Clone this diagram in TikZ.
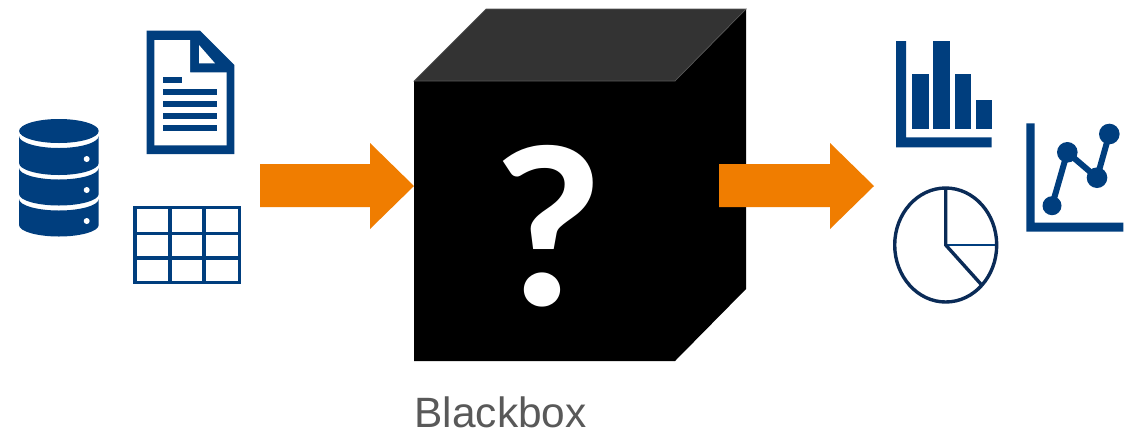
\documentclass[tikz,border=0pt]{standalone}
\usepackage{graphicx}
\usepackage{fontspec}
\setmainfont{Liberation Sans}
\newfontfamily\markfont{Carlito}
\definecolor{navy}{HTML}{003E7E}
\definecolor{pieline}{HTML}{0A2B57}
\definecolor{flow}{HTML}{F07D00}
\definecolor{topface}{HTML}{333333}
\definecolor{topedge}{HTML}{555555}
\definecolor{labelgrey}{HTML}{595959}
\tikzset{
  navyfill/.style={fill=navy,draw=none},
  blank/.style={fill=white,draw=none},
  flowarrow/.style={fill=flow,draw=none},
  pie/.style={draw=pieline,line width=3.4pt,fill=none},
  piethin/.style={draw=navy,line width=2.6pt},
  gridline/.style={draw=navy,line width=3.6pt},
  trend/.style={draw=navy,line width=6pt},
}
\newcommand{\dbseg}[3]{% top side y, bottom side y, sag
  \fill[navyfill] (19,#1) .. controls (19,#1+.55*#3) and (37.1,#1+#3) .. (58.9,#1+#3)
    .. controls (80.7,#1+#3) and (98.7,#1+.55*#3) .. (98.7,#1)
    -- (98.7,#2) .. controls (98.7,#2+.55*#3) and (80.7,#2+#3) .. (58.9,#2+#3)
    .. controls (37.1,#2+#3) and (19,#2+.55*#3) .. (19,#2) -- cycle;}
\begin{document}
\begin{tikzpicture}[x=1pt,y=-1pt]
\useasboundingbox (0,0) rectangle (1132,432);
\fill[white] (0,0) rectangle (1132,432);
% document icon
\fill[navyfill] (146.7,30.7) -- (200,30.7) -- (234.3,65) -- (234.3,154) -- (146.7,154) -- cycle;
\fill[blank] (154.3,40) -- (190,40) -- (190,72.3) -- (226.7,72.3) -- (226.7,145.3) -- (154.3,145.3) -- cycle;
\fill[blank] (199,45) -- (215,63.3) -- (199,63.3) -- cycle;
\fill[navyfill] (162.7,76.7) rectangle (181.7,82.7);
\fill[navyfill] (162.7,89) rectangle (217.3,95);
\fill[navyfill] (162.7,101) rectangle (217.3,107);
\fill[navyfill] (162.7,113.3) rectangle (217.3,119.3);
\fill[navyfill] (162.7,125.3) rectangle (217.3,131.3);
% database icon
\fill[navyfill] (58.9,131) ellipse [x radius=39.8, y radius=12];
\dbseg{136}{163}{12}
\dbseg{168}{194}{11.5}
\dbseg{199}{225}{11.5}
\fill[blank] (86.7,159) circle [radius=3];
\fill[blank] (86.7,190) circle [radius=3];
\fill[blank] (86.7,221) circle [radius=3];
% table icon
\draw[gridline] (135.1,207.5) rectangle (239.5,282.5);
\draw[gridline] (170,207) -- (170,283);
\draw[gridline] (204,207) -- (204,283);
\draw[gridline] (135,233.3) -- (240,233.3);
\draw[gridline] (135,257.7) -- (240,257.7);
% cube
\fill[black] (414,81) -- (675,81) -- (746,9) -- (746,289) -- (675,361) -- (414,361) -- cycle;
\fill[topface,draw=topedge,line width=.7pt] (414,81) -- (486,9) -- (746,9) -- (675,81) -- cycle;
% arrows
\fill[flowarrow] (260,164) -- (370,164) -- (370,143) -- (414,186) -- (370,229) -- (370,207) -- (260,207) -- cycle;
\fill[flowarrow] (719,164) -- (830,164) -- (830,143) -- (874,186) -- (830,229) -- (830,207) -- (719,207) -- cycle;
\node[text=white,inner sep=0pt,anchor=base,font=\markfont\bfseries\fontsize{232}{232}\selectfont] (mark) at (548,305) {\scalebox{1.05}[1]{?}};
\node[text=labelgrey,inner sep=0pt,anchor=base west,font=\fontsize{42.4}{42.4}\selectfont] (blackbox) at (414.5,427) {Blackbox};
% bar chart
\fill[navyfill] (896,41) -- (906,41) -- (906,137.3) -- (991.7,137.3) -- (991.7,147.3) -- (896,147.3) -- cycle;
\fill[navyfill] (912.3,73.7) rectangle (929,129);
\fill[navyfill] (932.7,41) rectangle (950.3,129);
\fill[navyfill] (955,73.7) rectangle (971.3,129);
\fill[navyfill] (975.7,100) rectangle (991.7,129);
% line chart
\fill[navyfill] (1026.3,123.3) -- (1034.7,123.3) -- (1034.7,222.7) -- (1123.3,222.7) -- (1123.3,231.7) -- (1026.3,231.7) -- cycle;
\draw[trend] (1052,205.7) -- (1067.3,152.3) -- (1097,177.7) -- (1109.3,134);
\fill[navyfill] (1052,205.7) circle [radius=9.5];
\fill[navyfill] (1067.3,152.3) circle [radius=10.3];
\fill[navyfill] (1097,177.7) circle [radius=10.3];
\fill[navyfill] (1109.3,134) circle [radius=10.3];
% pie chart
\draw[piethin] (945.7,245) -- (997,245);
\draw[pie] (945.7,245) ellipse [x radius=51, y radius=57];
\draw[pie] (945.7,188) -- (945.7,245) -- (981.7,285);
\end{tikzpicture}
\end{document}
